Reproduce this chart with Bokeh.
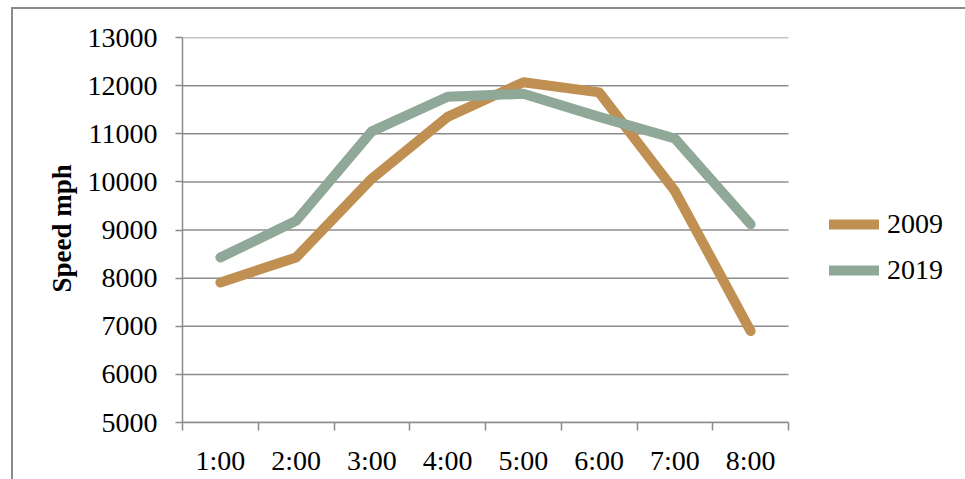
from bokeh.plotting import figure
from bokeh.models import Range1d, FixedTicker, Legend, LegendItem, Title, InlineStyleSheet
from bokeh.embed import file_html
from bokeh.resources import INLINE

# ---- data ----
hours = ["1:00", "2:00", "3:00", "4:00", "5:00", "6:00", "7:00", "8:00"]
speed_2009 = [7910, 8430, 10070, 11350, 12070, 11860, 9810, 6900]
speed_2019 = [8430, 9190, 11050, 11770, 11830, 11350, 10900, 9120]
y_ticks = [5000, 6000, 7000, 8000, 9000, 10000, 11000, 12000, 13000]
series_names = ["2009", "2019"]
y_title = "Speed mph"

# ---- styles ----
C2009 = "#C09052"
C2019 = "#8FA898"
GRID = "#8C8C8C"
FONT = "Liberation Serif"

W, H = 965, 479
PLOT_L, PLOT_R = 182, 788          # pixel extent of the category axis
n = len(hours)
centers = [i + 0.5 for i in range(n)]
bounds = list(range(n + 1))
x_end = n * (W - PLOT_L) / (PLOT_R - PLOT_L)   # frame runs to the right edge; legend sits in the blank part

border_css = InlineStyleSheet(css="""
:host::after {
  content: "";
  position: absolute;
  left: 11px; top: 7px; right: 0; bottom: 0;
  border-left: 2px solid #8C8C8C;
  border-top: 2px solid #8C8C8C;
  pointer-events: none;
}
""")

p = figure(width=W, height=H, output_backend="svg", toolbar_location=None,
           x_range=Range1d(0, x_end), y_range=Range1d(y_ticks[0], y_ticks[-1]),
           min_border_left=PLOT_L, min_border_right=0, min_border_top=37, min_border_bottom=57,
           stylesheets=[border_css])
p.outline_line_color = None
p.background_fill_color = "white"
p.border_fill_color = "white"

# horizontal gridlines limited to the category span
p.segment(x0=[0] * len(y_ticks), y0=y_ticks, x1=[n] * len(y_ticks), y1=y_ticks,
          line_color=GRID, line_width=1.5)

r1 = p.line(centers, speed_2009, line_color=C2009, line_width=10, line_cap="round", line_join="round")
r2 = p.line(centers, speed_2019, line_color=C2019, line_width=10, line_cap="round", line_join="round")

# x axis
xa = p.xaxis[0]
xa.bounds = (0, n)
xa.ticker = FixedTicker(ticks=centers, minor_ticks=bounds)
xa.major_label_overrides = {c: h for c, h in zip(centers, hours)}
xa.major_tick_out = 0
xa.major_tick_in = 0
xa.minor_tick_out = 8
xa.minor_tick_in = 0
xa.minor_tick_line_color = GRID
xa.minor_tick_line_width = 1.5
xa.axis_line_color = GRID
xa.axis_line_width = 1.5
xa.major_label_text_font = FONT
xa.major_label_text_font_size = "28px"
xa.major_label_text_color = "black"
xa.major_label_standoff = 14

# y axis
ya = p.yaxis[0]
ya.ticker = FixedTicker(ticks=y_ticks)
ya.major_tick_out = 7
ya.major_tick_in = 0
ya.minor_tick_line_color = None
ya.major_tick_line_color = GRID
ya.major_tick_line_width = 1.5
ya.axis_line_color = GRID
ya.axis_line_width = 1.5
ya.major_label_text_font = FONT
ya.major_label_text_font_size = "28px"
ya.major_label_text_color = "black"
ya.major_label_standoff = 18

p.xgrid.grid_line_color = None
p.ygrid.grid_line_color = None

# y axis title
ttl = Title(text=y_title, align="left", offset=130, standoff=15,
            text_font=FONT, text_font_style="bold", text_font_size="27px", text_color="black")
p.add_layout(ttl, "left")

# legend, right of the category span
legend = Legend(items=[LegendItem(label=series_names[0], renderers=[r1]),
                       LegendItem(label=series_names[1], renderers=[r2])],
                location=(647, 132), orientation="vertical",
                glyph_width=50, glyph_height=40, label_height=40, spacing=6,
                label_standoff=8, padding=0, margin=0,
                border_line_color=None, background_fill_alpha=0,
                label_text_font=FONT, label_text_font_size="28px", label_text_color="black")
p.add_layout(legend, "center")

open("out.html", "w").write(file_html(p, INLINE))
